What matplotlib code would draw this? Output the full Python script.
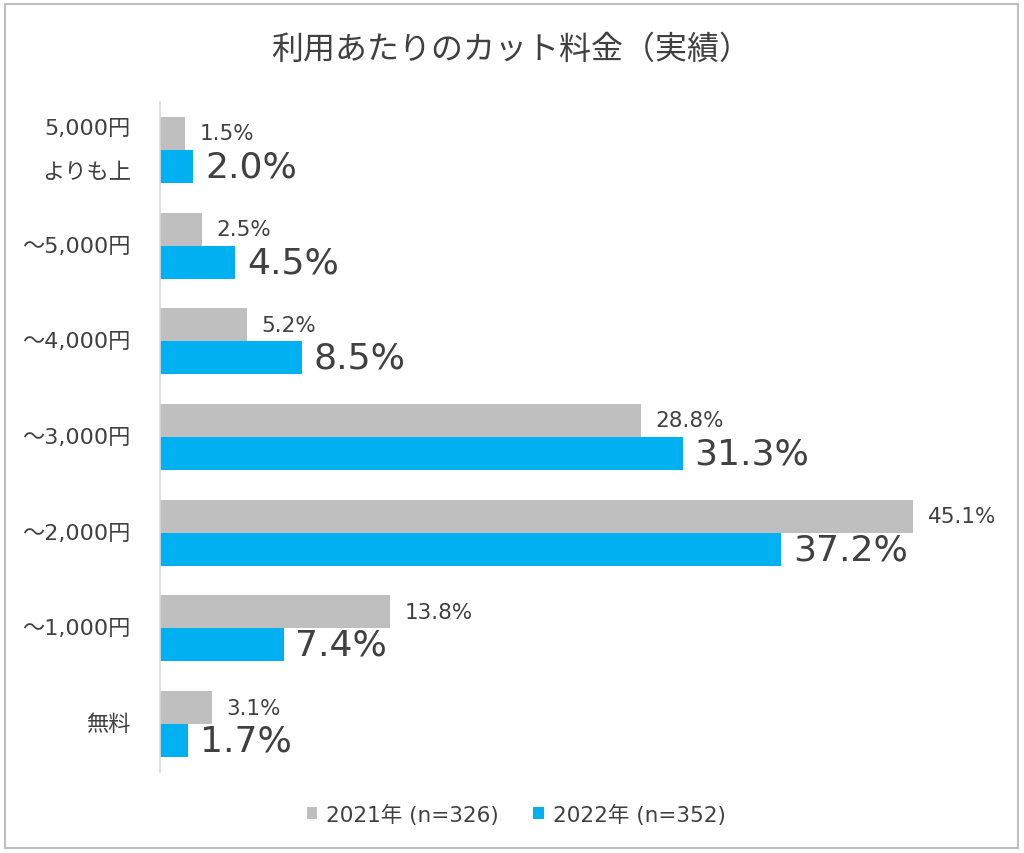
import matplotlib
matplotlib.use("Agg")
import matplotlib.pyplot as plt
from matplotlib.patches import Rectangle, Patch
import numpy as np

plt.rcParams['font.family'] = ['DejaVu Sans', 'Noto Sans CJK JP']

categories = ["5,000円\nよりも上", "～5,000円", "～4,000円", "～3,000円", "～2,000円", "～1,000円", "無料"]
values_2021 = [1.5, 2.5, 5.2, 28.8, 45.1, 13.8, 3.1]
values_2022 = [2.0, 4.5, 8.5, 31.3, 37.2, 7.4, 1.7]
series_names = ["2021年 (n=326)", "2022年 (n=352)"]
title = "利用あたりのカット料金（実績）"

c2021 = "#BFBFBF"
c2022 = "#00B0F0"
tc = "#404040"

fig = plt.figure(figsize=(10.24, 8.54), dpi=100)
ax = fig.add_axes([160/1024, 1-773/854, (995-160)/1024, (773-103)/854])

n = len(categories)
y = np.arange(n)
h = 0.345
ax.barh(y - h/2, values_2021, height=h, color=c2021, zorder=2)
ax.barh(y + h/2, values_2022, height=h, color=c2022, zorder=2)

for i in range(n):
    ax.annotate(f"{values_2021[i]:.1f}%", (values_2021[i], y[i] - h/2),
                xytext=(10.5, 0), textcoords="offset points", va="center", ha="left",
                fontsize=15.5, color=tc)
    ax.annotate(f"{values_2022[i]:.1f}%", (values_2022[i], y[i] + h/2),
                xytext=(8.5, 0), textcoords="offset points", va="center", ha="left",
                fontsize=26, color=tc)

ax.set_ylim(n - 0.5, -0.5)
ax.set_xlim(0, 50)
ax.set_yticks(y)
ax.set_yticklabels(categories, fontsize=16, color=tc, linespacing=2.5)
for lbl in ax.get_yticklabels():
    lbl.set_verticalalignment("center")
ax.tick_params(axis='y', length=0, pad=21)
ax.set_xticks([])
for s in ["top", "right", "bottom"]:
    ax.spines[s].set_visible(False)
ax.spines["left"].set_color("#D9D9D9")
ax.spines["left"].set_linewidth(1.2)

fig.text(511/1024, 1-50/854, title, ha="center", va="center", fontsize=23, color=tc)

handles = [Patch(facecolor=c2021, edgecolor='none'), Patch(facecolor=c2022, edgecolor='none')]
fig.legend(handles, series_names, loc="center", bbox_to_anchor=(516/1024, 1-815/854),
           ncol=2, frameon=False, fontsize=15.5, labelcolor=tc,
           handlelength=0.5, handleheight=0.5, handletextpad=0.4, columnspacing=1.6)

fig.patches.append(Rectangle((5/1024, 5/854), 1013/1024, 844/854, transform=fig.transFigure,
                             fill=False, edgecolor="#BFBFBF", linewidth=1.5))

fig.savefig("out.png", dpi=100)
